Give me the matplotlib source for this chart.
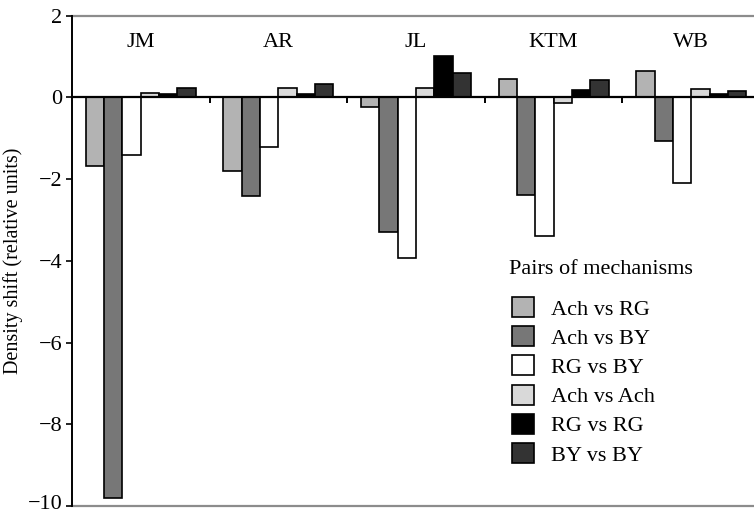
import numpy as np
import matplotlib
matplotlib.use("Agg")
import matplotlib.pyplot as plt
from matplotlib.transforms import ScaledTranslation

plt.rcParams['font.family'] = ['Liberation Serif', 'DejaVu Serif']

observers = ['JM', 'AR', 'JL', 'KTM', 'WB']
pairs = ['Ach vs RG', 'Ach vs BY', 'RG vs BY', 'Ach vs Ach', 'RG vs RG', 'BY vs BY']
colors = ['#b3b3b3', '#777777', '#ffffff', '#d9d9d9', '#000000', '#333333']

# density shift per observer, one list per pair of mechanisms
ach_rg = [-1.68, -1.81, -0.23, 0.45, 0.63]
ach_by = [-9.80, -2.41, -3.29, -2.38, -1.08]
rg_by = [-1.42, -1.22, -3.94, -3.40, -2.10]
ach_ach = [0.11, 0.22, 0.23, -0.14, 0.19]
rg_rg = [0.09, 0.08, 1.00, 0.18, 0.08]
by_by = [0.23, 0.33, 0.59, 0.42, 0.16]
series = [ach_rg, ach_by, rg_by, ach_ach, rg_rg, by_by]

fs = 16

fig = plt.figure(figsize=(7.54, 5.12), dpi=100)
ax = fig.add_axes([72 / 754, 1 - 506 / 512, 688 / 754, 490.5 / 512])

n = len(pairs)
w = 0.8 / n
x = np.arange(len(observers))
for j in range(n):
    ax.bar(x + 0.1 + (j + 0.5) * w, series[j], width=w, color=colors[j],
           edgecolor='black', linewidth=1.2, label=pairs[j], zorder=2)

ax.set_xlim(0, len(observers))
ax.set_ylim(-10, 2)
ax.set_yticks(range(-10, 3, 2))
ax.set_xticks(range(1, len(observers)))
ax.set_xticklabels([])

ax.spines['top'].set_visible(False)
ax.spines['right'].set_visible(False)
ax.spines['bottom'].set_position(('data', 0))
ax.spines['bottom'].set_linewidth(1.6)
ax.spines['bottom'].set_zorder(3)
ax.spines['left'].set_linewidth(1.4)
ax.tick_params(axis='x', direction='out', length=4, width=1.4)
ax.tick_params(axis='y', direction='out', length=4, width=1.2, labelsize=fs, pad=3)

# lift the bottom tick label a little so it stays inside the figure
low = ax.get_yticklabels()[0]
low.set_transform(low.get_transform() + ScaledTranslation(0, 3 / 72, fig.dpi_scale_trans))

for yv in (2, -10):
    ax.axhline(yv, color='#8c8c8c', linewidth=1.6, clip_on=False, zorder=1)

for i, name in enumerate(observers):
    ax.text(i + 0.5, 1.34, name, ha='center', va='center', fontsize=fs)

ax.set_ylabel('Density shift (relative units)', fontsize=14.5, labelpad=3)

# legend title sits a bit higher above the entries
fig.text(509 / 754, 1 - 270 / 512, 'Pairs of mechanisms', ha='left', va='center',
         fontsize=fs)
leg = ax.legend(loc='upper left', bbox_to_anchor=(512 / 754, 1 - 297 / 512),
                bbox_transform=fig.transFigure, frameon=False, fontsize=fs,
                handlelength=1.0, handleheight=1.0, labelspacing=0.3,
                handletextpad=0.75, borderpad=0, borderaxespad=0)

fig.savefig('out.png', dpi=100)
